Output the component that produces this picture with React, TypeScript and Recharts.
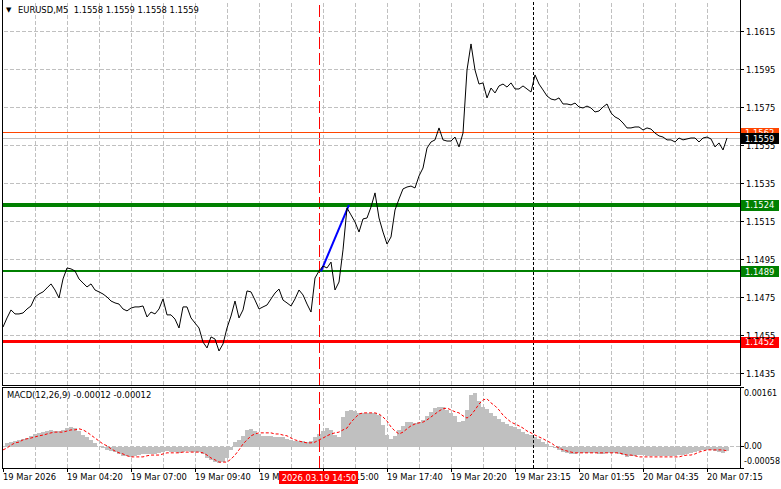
import React from 'react'
import { LineChart, Line, ComposedChart, Bar, XAxis, YAxis, ReferenceLine } from 'recharts'

const FONT = '"DejaVu Sans", Tahoma, sans-serif'

// closing prices, one point every second M5 bar
const closes = [
  1.14597, 1.14645, 1.14687, 1.14666, 1.14666, 1.14671, 1.14692, 1.14708, 1.14755, 1.14771,
  1.14782, 1.14803, 1.14824, 1.14792, 1.1475, 1.1485, 1.14908, 1.14903, 1.14892, 1.1485,
  1.14829, 1.14808, 1.14824, 1.14792, 1.14782, 1.14771, 1.14755, 1.14734, 1.14724, 1.14718,
  1.14692, 1.14682, 1.14697, 1.14703, 1.14703, 1.14708, 1.1465, 1.14676, 1.14666, 1.14692,
  1.14745, 1.14661, 1.14661, 1.14639, 1.14592, 1.14703, 1.14703, 1.14645, 1.14618, 1.14592,
  1.14518, 1.14487, 1.14545, 1.14534, 1.14471, 1.14508, 1.14592, 1.14655, 1.14734, 1.14645,
  1.14687, 1.14787, 1.14782, 1.14739, 1.14692, 1.14703, 1.14713, 1.14745, 1.14776, 1.14797,
  1.14739, 1.14724, 1.14708, 1.14745, 1.14792, 1.14766, 1.14718, 1.14676, 1.14855, 1.14892,
  1.14918, 1.14908, 1.14939, 1.14792, 1.14834, 1.15003, 1.15224, 1.15187, 1.1515, 1.15097,
  1.15166, 1.15171, 1.15229, 1.15303, 1.15171, 1.15097, 1.15034, 1.15071, 1.15213, 1.15271,
  1.15324, 1.15334, 1.15339, 1.15329, 1.15392, 1.15434, 1.15539, 1.15571, 1.15582, 1.15645,
  1.15582, 1.15576, 1.15576, 1.15597, 1.15545, 1.15618, 1.1595, 1.16087, 1.1595, 1.15876,
  1.15882, 1.15803, 1.15855, 1.15829, 1.15866, 1.15876, 1.1586, 1.15882, 1.1585, 1.1585,
  1.15866, 1.1585, 1.15834, 1.15924, 1.15876, 1.15845, 1.15813, 1.15797, 1.15792, 1.15803,
  1.15771, 1.15771, 1.15766, 1.15776, 1.15755, 1.1575, 1.1576, 1.1575, 1.15729, 1.15734,
  1.15755, 1.15771, 1.15724, 1.15703, 1.15692, 1.15671, 1.15645, 1.15645, 1.1565, 1.1565,
  1.15634, 1.15645, 1.15639, 1.15618, 1.15603, 1.15597, 1.15582, 1.15582, 1.15571, 1.15592,
  1.15582, 1.15587, 1.15592, 1.15592, 1.15571, 1.15592, 1.15597, 1.15587, 1.15545, 1.15566,
  1.15529, 1.15592,
]

const macdHist = [
  0.00002, 0.0001, 0.00012, 0.00015, 0.00018, 0.00021, 0.00023, 0.00029, 0.00034, 0.00037,
  0.00039, 0.00042, 0.00045, 0.00042, 0.00042, 0.00045, 0.0005, 0.00053, 0.0005, 0.00042,
  0.00031, 0.00026, 0.00018, 0.0001, -0.00001, -0.00004, -0.00009, -0.00012, -0.00015, -0.0002,
  -0.00025, -0.00025, -0.00028, -0.00025, -0.00023, -0.0002, -0.0002, -0.0002, -0.0002, -0.00017,
  -0.00015, -0.00012, -0.00015, -0.00015, -0.00017, -0.00015, -0.00012, -0.00015, -0.00015, -0.00015,
  -0.0002, -0.00031, -0.00036, -0.00042, -0.00044, -0.00042, -0.00031, -0.00009, 0.00012, 0.00018,
  0.00029, 0.00045, 0.00048, 0.00042, 0.00034, 0.00029, 0.00029, 0.00029, 0.00026, 0.00026,
  0.00026, 0.00021, 0.00018, 0.00015, 0.00015, 0.00015, 0.00012, 0.00015, 0.00026, 0.00034,
  0.00042, 0.0005, 0.00045, 0.00031, 0.00026, 0.0008, 0.00096, 0.00099, 0.00096, 0.00091,
  0.00091, 0.00091, 0.00091, 0.00091, 0.00085, 0.00058, 0.00031, 0.00021, 0.00029, 0.00045,
  0.00056, 0.00066, 0.00066, 0.00064, 0.00066, 0.00072, 0.00083, 0.00094, 0.00104, 0.00107,
  0.00107, 0.00099, 0.00091, 0.00083, 0.00066, 0.00069, 0.00099, 0.00139, 0.00145, 0.00123,
  0.00107, 0.00102, 0.00091, 0.00083, 0.00075, 0.00066, 0.00061, 0.00056, 0.00053, 0.00048,
  0.00039, 0.00034, 0.00031, 0.00026, 0.00021, 0.00012, 0.00007, 0.00002, -0.00004, -0.00009,
  -0.00015, -0.00017, -0.0002, -0.0002, -0.00017, -0.00017, -0.00017, -0.00017, -0.00017, -0.0002,
  -0.0002, -0.00017, -0.00017, -0.00017, -0.0002, -0.00023, -0.00028, -0.00025, -0.00025, -0.00023,
  -0.00023, -0.00025, -0.00025, -0.00025, -0.00025, -0.00025, -0.00025, -0.00025, -0.00025, -0.00023,
  -0.00023, -0.0002, -0.00017, -0.00015, -0.00012, -0.00009, -0.00009, -0.00009, -0.00012, -0.00015,
  -0.00017, -0.00012,
]

const macdSignal = [
  -0.00009, -0.00004, 0.00004, 0.0001, 0.00012, 0.00018, 0.00021, 0.00023, 0.00026, 0.00029,
  0.00031, 0.00034, 0.00037, 0.00039, 0.00039, 0.00039, 0.00042, 0.00045, 0.00045, 0.00048,
  0.00045, 0.00039, 0.00031, 0.00023, 0.00015, 0.00007, 0.00002, -0.00006, -0.00012, -0.00017,
  -0.0002, -0.00025, -0.00028, -0.00028, -0.00028, -0.00028, -0.00025, -0.00023, -0.00023, -0.00023,
  -0.0002, -0.00017, -0.00017, -0.00017, -0.00017, -0.00015, -0.00015, -0.00015, -0.00015, -0.00015,
  -0.00017, -0.00023, -0.00031, -0.00036, -0.00042, -0.00042, -0.00042, -0.00034, -0.00023, -0.00009,
  0.00007, 0.00018, 0.00029, 0.00034, 0.00037, 0.00037, 0.00037, 0.00037, 0.00034, 0.00034,
  0.00031, 0.00029, 0.00023, 0.00018, 0.00015, 0.00012, 0.0001, 0.0001, 0.00012, 0.00018,
  0.00023, 0.00029, 0.00034, 0.00037, 0.00039, 0.00045, 0.0005, 0.00066, 0.00077, 0.00088,
  0.00091, 0.00091, 0.00091, 0.00091, 0.00088, 0.0008, 0.00069, 0.00053, 0.00042, 0.00034,
  0.00039, 0.00048, 0.00056, 0.00061, 0.00064, 0.00066, 0.00072, 0.0008, 0.00088, 0.00096,
  0.00102, 0.00104, 0.00099, 0.00094, 0.00091, 0.00083, 0.00077, 0.00085, 0.00099, 0.00115,
  0.00126, 0.00129, 0.00118, 0.0011, 0.00099, 0.00085, 0.00075, 0.00066, 0.00061, 0.00056,
  0.0005, 0.00042, 0.00037, 0.00031, 0.00026, 0.00021, 0.00015, 0.0001, 0.00002, -0.00004,
  -0.00009, -0.00012, -0.00015, -0.00017, -0.00017, -0.00017, -0.00017, -0.00017, -0.00017, -0.00017,
  -0.00017, -0.00017, -0.00017, -0.00017, -0.00017, -0.0002, -0.00023, -0.00023, -0.00025, -0.00028,
  -0.00028, -0.00028, -0.00028, -0.00028, -0.00028, -0.00028, -0.00028, -0.00028, -0.00028, -0.00028,
  -0.00025, -0.00023, -0.00023, -0.0002, -0.00015, -0.00012, -0.00009, -0.00009, -0.00009, -0.00009,
  -0.00009, -0.00012,
]

// bar indexes of the time labels, and the labels
const timeTicks = [0, 32, 64, 96, 128, 160, 192, 224, 256, 288, 320, 352]
const timeLabels = [
  '19 Mar 2026', '19 Mar 04:20', '19 Mar 07:00', '19 Mar 09:40', '19 Mar 12:20', '19 Mar 15:00',
  '19 Mar 17:40', '19 Mar 20:20', '19 Mar 23:15', '20 Mar 01:55', '20 Mar 04:35', '20 Mar 07:15',
]
const gridBars = [16, 32, 48, 64, 80, 96, 112, 128, 144, 160, 176, 192, 208, 224, 240, 256, 272, 288, 304, 320, 336, 352]

const priceTicks = [1.1615, 1.1595, 1.1575, 1.1555, 1.1535, 1.1515, 1.1495, 1.1475, 1.1455, 1.1435]
const macdTicks = [0.00161, 0, -0.00058]
const macdTickLabels = ['0.00161', '0.00', '-0.00058']

const buyTarget = 1.1524
const buyEntry = 1.1489
const sellEntry = 1.1452
const askPrice = 1.1562
const bidPrice = 1.1559

const trendStart = { bar: 159, price: 1.1489 }
const trendEnd = { bar: 173, price: 1.1524 }
const cursorBar = 158
const cursorLabel = '2026.03.19 14:50'
const sessionBar = 265

const barDomain = [-0.5, 368.5]
const macdDomain = [-0.00058, 0.00161]

const priceData = closes.map((close, i) => ({ bar: i * 2, close }))
const macdData = macdHist.map((hist, i) => ({ bar: i * 2, hist, signal: macdSignal[i] }))

const levelBadge = (fill: string, price: number) => (props: any) => {
  const vb = props.viewBox
  if (!vb) return null
  const x = vb.x + vb.width + 1
  return (
    <g>
      <rect x={x} y={Math.round(vb.y) - 5} width={38} height={11} fill={fill} />
      <text x={x + 4} y={vb.y + 0.5} dy="0.355em" fill="#fff" fontSize={8.4} fontFamily={FONT}>
        {price.toFixed(4)}
      </text>
    </g>
  )
}

const timeBadge = (props: any) => {
  const vb = props.viewBox
  if (!vb) return null
  const top = vb.y + vb.height + 3
  return (
    <g>
      <rect x={vb.x - 40} y={top} width={79} height={13} fill="#ff0000" />
      <text x={vb.x} y={top + 7} dy="0.355em" textAnchor="middle" fill="#fff" fontSize={8.4} fontFamily={FONT}>
        {cursorLabel}
      </text>
    </g>
  )
}

function TimeTick(props: any) {
  const { x, y, payload } = props
  const label = timeLabels[timeTicks.indexOf(payload.value)]
  return (
    <text x={x} y={y} dy="0.71em" textAnchor="start" fill="#000" fontSize={8.4} fontFamily={FONT}>
      {label}
    </text>
  )
}

function MacdTick(props: any) {
  const { x, y, payload } = props
  const i = macdTicks.indexOf(payload.value)
  const shift = i === 0 ? 6 : i === 2 ? -7 : 0
  return (
    <text x={x - 2} y={y + shift} dy="0.355em" textAnchor="start" fill="#000" fontSize={8} fontFamily={FONT}>
      {macdTickLabels[i]}
    </text>
  )
}

const gridStyle = { stroke: '#c0c0c0', strokeDasharray: '4 2', shapeRendering: 'crispEdges' } as const

export default function App() {
  return (
    <div style={{ position: 'absolute', left: 0, top: 0, width: 781, height: 489, background: '#fff', fontFamily: FONT }}>
      <div style={{ position: 'absolute', left: 0, top: 0 }}>
        <LineChart width={781} height={386} data={priceData} margin={{ top: 1, right: 0, bottom: 1, left: 2 }}>
          <XAxis type="number" dataKey="bar" domain={barDomain} allowDataOverflow hide />
          <YAxis
            orientation="right"
            width={41}
            type="number"
            domain={[1.14292, 1.16313]}
            allowDataOverflow
            ticks={priceTicks}
            interval={0}
            axisLine={false}
            tickLine={{ stroke: '#000', shapeRendering: 'crispEdges' }}
            tickSize={4}
            tickMargin={2}
            tick={{ fill: '#000', fontSize: 8.4, fontFamily: FONT }}
            tickFormatter={(v: number) => v.toFixed(4)}
          />
          {priceTicks.map(p => (
            <ReferenceLine key={'h' + p} y={p} {...gridStyle} />
          ))}
          {gridBars.map(b => (
            <ReferenceLine key={'v' + b} x={b} {...gridStyle} />
          ))}
          <ReferenceLine x={sessionBar} stroke="#000" strokeDasharray="3 2" shapeRendering="crispEdges" />
          <ReferenceLine x={cursorBar} stroke="#ff0000" strokeDasharray="12 4" shapeRendering="crispEdges" />
          <ReferenceLine y={bidPrice} stroke="#c0c0c0" shapeRendering="crispEdges" />
          <ReferenceLine y={askPrice} stroke="#ff4500" shapeRendering="crispEdges" label={levelBadge('#ff4500', askPrice)} />
          <ReferenceLine y={buyTarget} stroke="#008000" strokeWidth={4} shapeRendering="crispEdges" label={levelBadge('#008000', buyTarget)} />
          <ReferenceLine y={buyEntry} stroke="#008000" strokeWidth={2} shapeRendering="crispEdges" label={levelBadge('#008000', buyEntry)} />
          <ReferenceLine y={sellEntry} stroke="#ff0000" strokeWidth={3} shapeRendering="crispEdges" label={levelBadge('#ff0000', sellEntry)} />
          <ReferenceLine y={bidPrice} stroke="none" label={levelBadge('#000000', bidPrice)} />
          <ReferenceLine
            segment={[
              { x: trendStart.bar, y: trendStart.price },
              { x: trendEnd.bar, y: trendEnd.price },
            ]}
            stroke="#0000ff"
            strokeWidth={2}
          />
          <Line
            type="linear"
            dataKey="close"
            stroke="#000"
            strokeWidth={1}
            dot={false}
            activeDot={false}
            isAnimationActive={false}
          />
        </LineChart>
      </div>

      <div style={{ position: 'absolute', left: 0, top: 386 }}>
        <ComposedChart width={781} height={103} data={macdData} margin={{ top: 1, right: 0, bottom: 0, left: 2 }}>
          <XAxis
            type="number"
            dataKey="bar"
            domain={barDomain}
            allowDataOverflow
            ticks={timeTicks}
            interval={0}
            height={21}
            axisLine={false}
            tickLine={{ stroke: '#000', shapeRendering: 'crispEdges' }}
            tickSize={4}
            tickMargin={2}
            tick={<TimeTick />}
          />
          <YAxis
            orientation="right"
            width={41}
            type="number"
            domain={macdDomain}
            allowDataOverflow
            ticks={macdTicks}
            interval={0}
            axisLine={false}
            tickLine={{ stroke: '#000', shapeRendering: 'crispEdges' }}
            tickSize={4}
            tickMargin={2}
            tick={<MacdTick />}
          />
          <ReferenceLine y={0} {...gridStyle} />
          {gridBars.map(b => (
            <ReferenceLine key={'mv' + b} x={b} {...gridStyle} />
          ))}
          <Bar dataKey="hist" fill="#c0c0c0" barSize={5} shapeRendering="crispEdges" isAnimationActive={false} />
          <Line
            type="linear"
            dataKey="signal"
            stroke="#ff0000"
            strokeWidth={1}
            strokeDasharray="3 2"
            dot={false}
            activeDot={false}
            isAnimationActive={false}
          />
          <ReferenceLine x={sessionBar} stroke="#000" strokeDasharray="3 2" shapeRendering="crispEdges" />
          <ReferenceLine x={cursorBar} stroke="#ff0000" strokeDasharray="12 4" shapeRendering="crispEdges" />
        </ComposedChart>
      </div>

      {/* panel frames */}
      <div style={{ position: 'absolute', left: 2, top: -1, width: 739, height: 387, border: '1px solid #000', boxSizing: 'border-box', pointerEvents: 'none' }} />
      <div style={{ position: 'absolute', left: 2, top: 387, width: 739, height: 82, border: '1px solid #000', boxSizing: 'border-box', pointerEvents: 'none' }} />

      {/* crosshair time badge, drawn above the time axis labels */}
      <div style={{ position: 'absolute', left: 0, top: 386, pointerEvents: 'none' }}>
        <ComposedChart width={781} height={103} data={macdData} margin={{ top: 1, right: 0, bottom: 0, left: 2 }}>
          <XAxis type="number" dataKey="bar" domain={barDomain} allowDataOverflow height={21} tick={false} tickLine={false} axisLine={false} />
          <YAxis orientation="right" width={41} domain={macdDomain} allowDataOverflow tick={false} tickLine={false} axisLine={false} />
          <ReferenceLine x={cursorBar} stroke="none" label={timeBadge} />
        </ComposedChart>
      </div>

      <div style={{ position: 'absolute', left: 6, top: 4, fontSize: 7, lineHeight: '12px', color: '#000' }}>▼</div>
      <div style={{ position: 'absolute', left: 18, top: 4, fontSize: 8.4, lineHeight: '12px', color: '#000', whiteSpace: 'pre' }}>
        {'EURUSD,M5  1.1558 1.1559 1.1558 1.1559'}
      </div>
      <div style={{ position: 'absolute', left: 7, top: 389, fontSize: 8.4, lineHeight: '12px', color: '#000', whiteSpace: 'pre' }}>
        MACD(12,26,9) -0.00012 -0.00012
      </div>
    </div>
  )
}
